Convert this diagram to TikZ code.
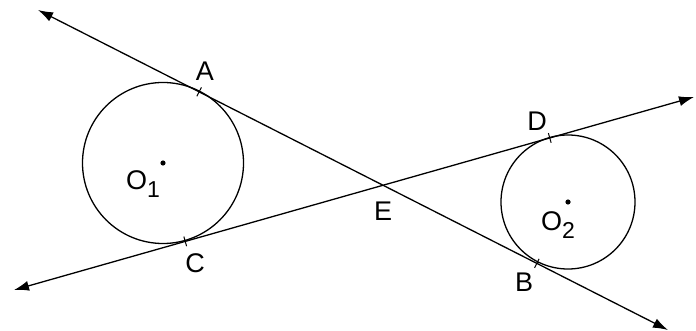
\documentclass[tikz,border=0pt]{standalone}
\usepackage{fontspec}
\setmainfont{Liberation Sans}
\usetikzlibrary{arrows.meta,calc}
\begin{document}
\begin{tikzpicture}[x=1pt,y=-1pt,
  geo/.style={line width=1.3pt},
  tangentline/.style={geo, {Latex[length=15pt,width=10pt]}-{Latex[length=15pt,width=10pt]}},
  lbl/.style={font=\fontsize{27}{27}\selectfont, inner sep=0pt},
  tickmark/.style={line width=1pt},
  centredot/.style={fill=black}]
\useasboundingbox (0,0) rectangle (696,331);
\coordinate (P1) at (38,10);
\coordinate (P2) at (668,330);
\coordinate (Q1) at (14,290);
\coordinate (Q2) at (694,97);
\coordinate (O1) at (163,163);
\coordinate (O2) at (568,202);
\draw[geo] (O1) circle[radius=80.5];
\draw[geo] (O2) circle[radius=67];
\draw[tangentline] (P1) -- (P2);
\draw[tangentline] (Q1) -- (Q2);
\coordinate (A) at ($(P1)!(O1)!(P2)$);
\coordinate (B) at ($(P1)!(O2)!(P2)$);
\coordinate (C) at ($(Q1)!(O1)!(Q2)$);
\coordinate (D) at ($(Q1)!(O2)!(Q2)$);
\coordinate (E) at (intersection of P1--P2 and Q1--Q2);
\foreach \p/\q in {A/P2,B/P2,C/Q2,D/Q2}
  \draw[tickmark] ($(\p)!5pt!90:(\q)$) -- ($(\p)!5pt!-90:(\q)$);
\fill[centredot] (O1) circle[radius=2.6];
\fill[centredot] (O2) circle[radius=2.6];
\node[lbl] (lA) at (205,71) {A};
\node[lbl] (lB) at (524,282) {B};
\node[lbl] (lC) at (195,263) {C};
\node[lbl] (lD) at (537,121) {D};
\node[lbl] (lE) at (383,211) {E};
\node[lbl, anchor=base west] (lO1) at (126,190) {O\raisebox{-8pt}{\fontsize{23}{23}\selectfont 1}};
\node[lbl, anchor=base west] (lO2) at (541,230) {O\raisebox{-8pt}{\fontsize{23}{23}\selectfont 2}};
\end{tikzpicture}
\end{document}
